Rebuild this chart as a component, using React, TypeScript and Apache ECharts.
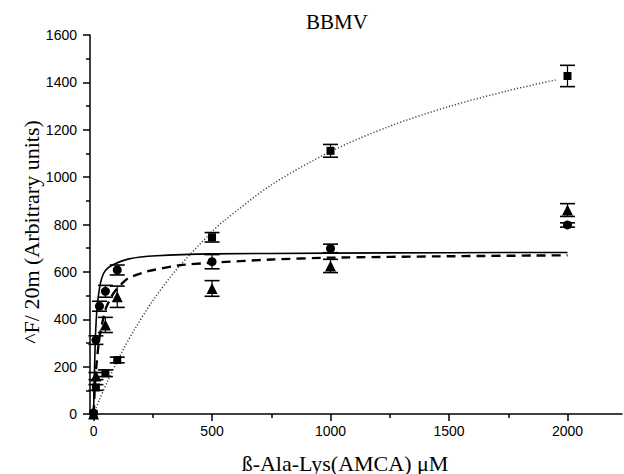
import React, { useEffect, useRef } from "react";
import * as echarts from "echarts";

// ---- data ----
const squareX = [0, 10, 50, 100, 500, 1000, 2000];
const squareY = [0, 112, 172, 228, 746, 1111, 1427];
const squareErr = [0, 12, 14, 12, 20, 27, 45];

const circleX = [0, 10, 25, 50, 100, 500, 1000, 2000];
const circleY = [5, 312, 455, 518, 608, 643, 699, 798];
const circleErr = [0, 18, 21, 25, 21, 30, 18, 9];

const triangleX = [0, 10, 50, 100, 500, 1000, 2000];
const triangleY = [0, 160, 376, 495, 530, 625, 861];
const triangleErr = [0, 15, 32, 45, 33, 28, 27];

// fitted curves, points
const solidX = [0, 3, 8, 15, 25, 35, 50, 80, 150, 265, 500, 1000, 1500, 2000];
const solidY = [0, 150, 330, 450, 530, 575, 606, 629, 655, 668, 676, 679, 681, 682];

const dashX = [0, 5, 10, 25, 50, 75, 100, 145, 222, 363, 490, 750, 1000, 1500, 2000];
const dashY = [0, 105, 182, 325, 440, 495, 530, 572, 601, 628, 638, 652, 660, 666, 670];

const dotX = [0, 25, 60, 122, 173, 250, 350, 500, 546, 750, 1000, 1250, 1500, 1750, 1950];
const dotY = [0, 61, 140, 266, 357, 478, 610, 770, 812, 967, 1108, 1215, 1298, 1365, 1410];

const xTickLabels = ["0", "500", "1000", "1500", "2000"];
const yTickLabels = ["0", "200", "400", "600", "800", "1000", "1200", "1400", "1600"];

const pairs = (xs: number[], ys: number[]) => xs.map((x, i) => [x, ys[i]]);
const errs = (xs: number[], ys: number[], es: number[]) =>
  xs.map((x, i) => [x, ys[i] - es[i], ys[i] + es[i]]).filter((d, i) => es[i] > 0);

const errorSeries = (data: number[][]) => ({
  type: "custom",
  xAxisIndex: 0,
  yAxisIndex: 0,
  clip: false,
  z: 5,
  encode: { x: 0, y: [1, 2] },
  data,
  renderItem: (_params: any, api: any) => {
    const x = api.value(0);
    const lo = api.coord([x, api.value(1)]);
    const hi = api.coord([x, api.value(2)]);
    const hw = 7.5;
    const st = { stroke: "#000", lineWidth: 1.6 };
    return {
      type: "group",
      children: [
        { type: "line", shape: { x1: lo[0], y1: lo[1], x2: hi[0], y2: hi[1] }, style: { stroke: "#000", lineWidth: 1.2 } },
        { type: "line", shape: { x1: lo[0] - hw, y1: lo[1], x2: lo[0] + hw, y2: lo[1] }, style: st },
        { type: "line", shape: { x1: hi[0] - hw, y1: hi[1], x2: hi[0] + hw, y2: hi[1] }, style: st },
      ],
    };
  },
});

const labelFont = { fontFamily: "Liberation Sans, Arial, sans-serif", fontSize: 14, color: "#000" };

export default function App() {
  const ref = useRef<HTMLDivElement>(null);
  useEffect(() => {
    if (!ref.current) return;
    const chart = echarts.init(ref.current, null, { renderer: "svg" });
    const xScale = 532 / 2245;
    const x0px = 90 + 15 * xScale;
    chart.setOption({
      animation: false,
      backgroundColor: "#fff",
      grid: [
        { left: 90, top: 35, width: 532, height: 379 },
        { left: x0px, top: 35, width: 2000 * xScale, height: 379 },
      ],
      xAxis: [
        {
          type: "value",
          gridIndex: 0,
          min: -15,
          max: 2230,
          axisLine: { show: true, onZero: false, lineStyle: { color: "#000", width: 1.5 } },
          axisTick: { show: false },
          axisLabel: { show: false },
          splitLine: { show: false },
        },
        {
          type: "value",
          gridIndex: 1,
          min: 0,
          max: 2000,
          interval: 500,
          axisLine: { show: false },
          axisTick: { show: true, length: 7, lineStyle: { color: "#000", width: 1.5 } },
          minorTick: { show: true, splitNumber: 2, length: 4, lineStyle: { color: "#000", width: 1.5 } },
          axisLabel: {
            ...labelFont,
            margin: 10,
            formatter: (v: number) => xTickLabels[Math.round(v / 500)] ?? String(v),
          },
          splitLine: { show: false },
        },
      ],
      yAxis: [
        {
          type: "value",
          gridIndex: 0,
          min: 0,
          max: 1600,
          interval: 200,
          axisLine: { show: true, onZero: false, lineStyle: { color: "#000", width: 1.5 } },
          axisTick: { show: true, length: 7, lineStyle: { color: "#000", width: 1.5 } },
          minorTick: { show: true, splitNumber: 2, length: 4, lineStyle: { color: "#000", width: 1.5 } },
          axisLabel: {
            ...labelFont,
            margin: 13,
            formatter: (v: number) => yTickLabels[Math.round(v / 200)] ?? String(v),
          },
          splitLine: { show: false },
        },
        {
          type: "value",
          gridIndex: 1,
          min: 0,
          max: 1600,
          show: false,
        },
      ],
      graphic: [
        {
          type: "text",
          x: 337,
          y: 22,
          style: { text: "BBMV", fontFamily: "Liberation Serif, Times New Roman, serif", fontSize: 21, fill: "#000", align: "center", verticalAlign: "middle" },
        },
        {
          type: "text",
          x: 345,
          y: 463,
          style: { text: "ß-Ala-Lys(AMCA) μM", fontFamily: "Liberation Serif, Times New Roman, serif", fontSize: 22, fill: "#000", align: "center", verticalAlign: "middle" },
        },
        {
          type: "text",
          x: 31,
          y: 232,
          rotation: Math.PI / 2,
          style: { text: "^F/ 20m (Arbitrary units)", fontFamily: "Liberation Serif, Times New Roman, serif", fontSize: 22, fill: "#000", align: "center", verticalAlign: "middle" },
        },
      ],
      series: [
        {
          type: "line",
          xAxisIndex: 0,
          yAxisIndex: 0,
          data: pairs(dotX, dotY),
          showSymbol: false,
          smooth: 0.3,
          lineStyle: { color: "#444", width: 1.5, type: [1.2, 2] },
          z: 2,
        },
        {
          type: "line",
          xAxisIndex: 0,
          yAxisIndex: 0,
          data: pairs(solidX, solidY),
          showSymbol: false,
          smooth: 0.2,
          lineStyle: { color: "#000", width: 1.6, type: "solid" },
          z: 3,
        },
        {
          type: "line",
          xAxisIndex: 0,
          yAxisIndex: 0,
          data: pairs(dashX, dashY),
          showSymbol: false,
          smooth: 0.2,
          lineStyle: { color: "#000", width: 2.4, type: [9, 6] },
          z: 3,
        },
        errorSeries(errs(squareX, squareY, squareErr)),
        errorSeries(errs(circleX, circleY, circleErr)),
        errorSeries(errs(triangleX, triangleY, triangleErr)),
        {
          type: "scatter",
          xAxisIndex: 0,
          yAxisIndex: 0,
          data: pairs(squareX, squareY),
          symbol: "rect",
          symbolSize: 8,
          itemStyle: { color: "#000", opacity: 1 },
          z: 6,
        },
        {
          type: "scatter",
          xAxisIndex: 0,
          yAxisIndex: 0,
          data: pairs(circleX, circleY),
          symbol: "circle",
          symbolSize: 9,
          itemStyle: { color: "#000", opacity: 1 },
          z: 6,
        },
        {
          type: "scatter",
          xAxisIndex: 0,
          yAxisIndex: 0,
          data: pairs(triangleX, triangleY),
          symbol: "triangle",
          symbolSize: 11,
          itemStyle: { color: "#000", opacity: 1 },
          z: 6,
        },
      ],
    });
    return () => chart.dispose();
  }, []);
  return (
    <div
      ref={ref}
      style={{ position: "fixed", left: 0, top: 0, width: 624, height: 474, background: "#fff" }}
    />
  );
}
